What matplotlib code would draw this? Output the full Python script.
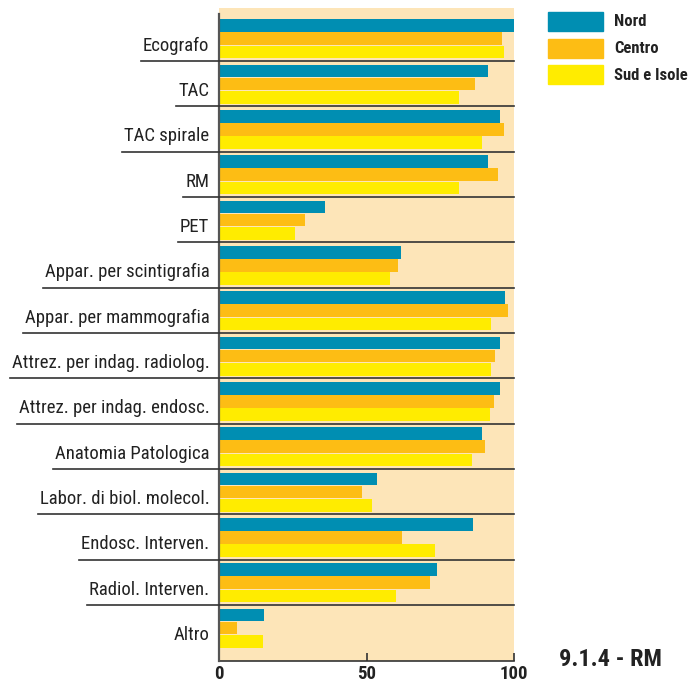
import matplotlib
matplotlib.use('Agg')
import matplotlib.pyplot as plt
from matplotlib.patches import Rectangle

categories = ['Ecografo', 'TAC', 'TAC spirale', 'RM', 'PET',
              'Appar. per scintigrafia', 'Appar. per mammografia',
              'Attrez. per indag. radiolog.', 'Attrez. per indag. endosc.',
              'Anatomia Patologica', 'Labor. di biol. molecol.',
              'Endosc. Interven.', 'Radiol. Interven.', 'Altro']
nord = [100, 91.2, 95.3, 91.2, 35.9, 61.7, 96.9, 95.3, 95.3, 89.2, 53.6, 86.1, 73.9, 15.3]
centro = [95.9, 86.8, 96.6, 94.6, 29.2, 60.7, 98.0, 93.6, 93.2, 90.2, 48.5, 62.0, 71.5, 6.1]
sud = [96.6, 81.4, 89.2, 81.4, 25.8, 58.0, 92.2, 92.2, 91.9, 85.8, 51.9, 73.2, 60.0, 14.9]
series_names = ['Nord', 'Centro', 'Sud e Isole']
xticks = [0, 50, 100]

colors = ['#008EB2', '#FDBD14', '#FFEC00']
bg = '#FDE5B8'
font = ['Roboto Condensed', 'Archivo Narrow', 'PT Sans Narrow', 'DejaVu Sans']

fig = plt.figure(figsize=(6.94, 6.82), dpi=100)
ax = fig.add_axes([219 / 694, 1 - 661 / 682, 295 / 694, 653 / 682])
ax.set_facecolor(bg)

offsets = [0.22, 0.51, 0.80]
for vals, off, c in zip([nord, centro, sud], offsets, colors):
    ys = [i + off for i in range(len(categories))]
    ax.barh(ys, vals, height=0.28, color=c, zorder=2)

ax.set_xlim(0, 100)
ax.set_ylim(14.236, -0.169)
ax.set_yticks([i + 0.62 for i in range(len(categories))])
ax.set_yticklabels(categories, family=font, fontsize=13.5, color='#222222')
ax.tick_params(axis='y', length=0, pad=7)
ax.set_xticks(xticks)
ax.set_xticklabels([str(t) for t in xticks], family=font, fontsize=13.5,
                   fontweight='bold', color='#222222')
ax.tick_params(axis='x', direction='in', length=6, width=1.2, color='#333333', pad=3)

for s in ['top', 'right']:
    ax.spines[s].set_visible(False)
ax.spines['left'].set_color('#555555')
ax.spines['left'].set_linewidth(1.6)
ax.spines['left'].set_zorder(3)
ax.spines['left'].set_bounds(14.236, -0.04)
ax.spines['bottom'].set_color('#333333')
ax.spines['bottom'].set_linewidth(1.2)

# separator lines running under each label
fig.canvas.draw()
inv = ax.transAxes.inverted()
for i, lbl in enumerate(ax.get_yticklabels()[:-1]):
    bb = lbl.get_window_extent()
    x0 = inv.transform((bb.x0 - 2, 0))[0]
    ax.plot([x0, 1], [i + 1, i + 1], transform=ax.get_yaxis_transform(),
            color='#333333', lw=1.2, clip_on=False, zorder=4)

# legend
for k, (name, c) in enumerate(zip(series_names, colors)):
    y = 682 - 12 - k * 26.5
    fig.patches.append(Rectangle((548 / 694, (y - 19) / 682), 55 / 694, 19 / 682,
                                 transform=fig.transFigure, color=c))
    fig.text(614 / 694, (y - 10) / 682, name, family=font, fontsize=12,
             fontweight='bold', va='center', ha='left', color='#222222')

fig.text(559 / 694, 1 - 660 / 682, '9.1.4 - RM', family=font, fontsize=17.5,
         fontweight='bold', va='center', ha='left', color='#222222')

fig.savefig('out.png', dpi=100)
